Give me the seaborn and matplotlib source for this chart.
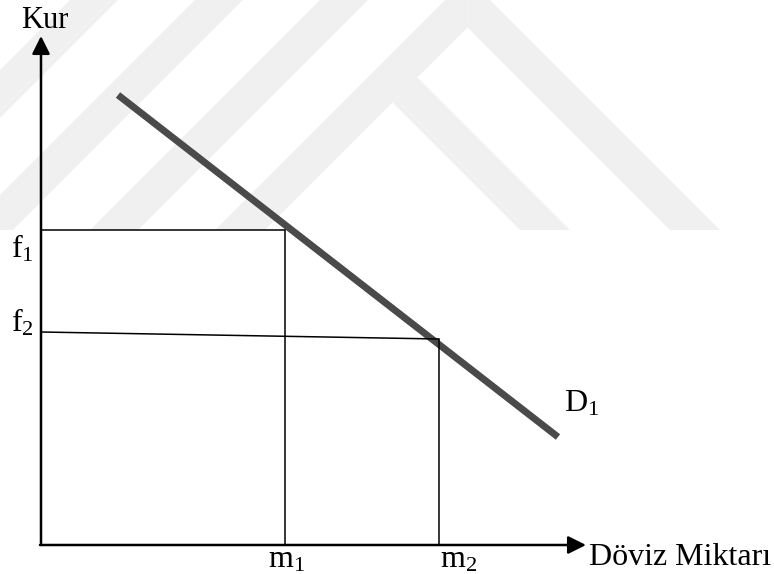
import matplotlib
matplotlib.use("Agg")
import matplotlib.pyplot as plt
import seaborn as sns
import pandas as pd

# ---- data (diagram units) ----
demand_x = [1.54, 10.34]
demand_y = [9.0, 2.16]
m_vals = [4.88, 7.96]
m_labels = ["m_1", "m_2"]
f_vals_left = [6.3, 4.26]
f_vals_right = [6.3, 4.12]
f_labels = ["f_1", "f_2"]
x_tip = 10.9
y_tip = 10.18
axis_x_label = "Döviz Miktarı"
axis_y_label = "Kur"
curve_label = "D_1"

sns.set_theme(style="white")
plt.rcParams["font.family"] = ["Liberation Serif", "DejaVu Serif"]
plt.rcParams["mathtext.fontset"] = "custom"
plt.rcParams["mathtext.rm"] = "Liberation Serif"
plt.rcParams["text.color"] = "black"

fig = plt.figure(figsize=(7.74, 5.74), dpi=100)

# faint watermark in background (pixel coordinates)
bg = fig.add_axes([0, 0, 1, 1])
bg.set_xlim(0, 774)
bg.set_ylim(574, 0)
bg.axis("off")
wm = "#f0f0f0"
yb = 230
for c0 in [70, 195, 320]:
    c1 = c0 + 48
    bg.fill([c0 - yb, c1 - yb, c1, c0], [yb, yb, 0, 0], color=wm, lw=0)
bg.fill([215, 265, 467.5, 467.5], [230, 230, 27.5, -22.5], color=wm, lw=0)
bg.fill([670, 720, 467.5, 467.5], [230, 230, -22.5, 27.5], color=wm, lw=0)
bg.fill([520, 570, 417.5, 392.5], [230, 230, 77.5, 102.5], color=wm, lw=0)

ax = fig.add_axes([0, 0, 1, 1])
ax.patch.set_alpha(0)
ax.set_xlim(-0.82, 14.66)
ax.set_ylim(-0.58, 10.9)
ax.axis("off")

# demand curve
df = pd.DataFrame({"x": demand_x, "y": demand_y})
sns.lineplot(data=df, x="x", y="y", ax=ax, color="#4a4a4a", lw=5.0,
             solid_capstyle="butt", legend=False)

# guide lines
for mv, fl, fr in zip(m_vals, f_vals_left, f_vals_right):
    ax.plot([0, mv], [fl, fr], color="black", lw=1.1)
    ax.plot([mv, mv], [0, fr], color="black", lw=1.1)

# axes with arrows
arrow_kw = dict(arrowstyle="-|>,head_length=0.4,head_width=0.2", color="black",
                lw=1.8, mutation_scale=27, shrinkA=0, shrinkB=0)
ax.annotate("", xy=(0, y_tip), xytext=(0, 0), arrowprops=arrow_kw)
ax.annotate("", xy=(x_tip, 0), xytext=(-0.02, 0), arrowprops=arrow_kw)

fs = 23
ax.text(0.08, 10.34, axis_y_label, ha="center", va="baseline", fontsize=fs - 1)
ax.text(10.96, -0.4, axis_x_label, ha="left", va="baseline", fontsize=fs)
for lab, yv in zip(f_labels, [5.76, 4.26]):
    ax.text(-0.6, yv, r"$\mathregular{" + lab + "}$", ha="left", va="baseline", fontsize=fs)
for lab, xv in zip(m_labels, [4.54, 7.98]):
    ax.text(xv, -0.44, r"$\mathregular{" + lab + "}$", ha="left", va="baseline", fontsize=fs)
ax.text(10.46, 2.66, r"$\mathregular{" + curve_label + "}$", ha="left", va="baseline", fontsize=fs)

fig.savefig("out.png", dpi=100)
